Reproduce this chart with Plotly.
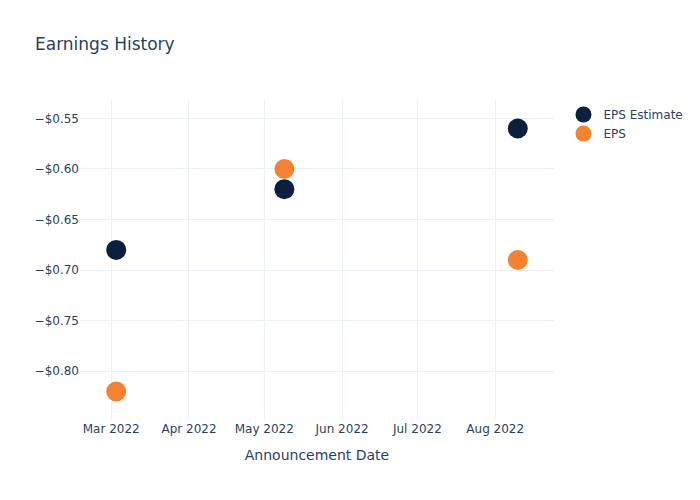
import plotly.graph_objects as go

dates = ["2022-03-03", "2022-05-09", "2022-08-10"]
eps_estimate = [-0.68, -0.62, -0.56]
eps_actual = [-0.82, -0.60, -0.69]

fig = go.Figure()
fig.add_trace(go.Scatter(x=dates, y=eps_estimate, mode="markers", name="EPS Estimate",
                         marker=dict(color="#0b1f3f", size=20)))
fig.add_trace(go.Scatter(x=dates, y=eps_actual, mode="markers", name="EPS",
                         marker=dict(color="#f58231", size=20)))
fig.update_layout(
    template="plotly_white",
    width=700, height=500,
    font=dict(family="DejaVu Sans"),
    title=dict(text="Earnings History"),
    xaxis=dict(title=dict(text="Announcement Date")),
    yaxis=dict(tickformat="$.2f"),
)
fig.write_html("out.html")
